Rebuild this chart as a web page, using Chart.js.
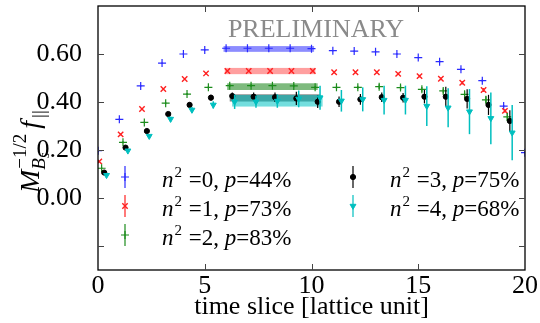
<!DOCTYPE html>
<html>
<head>
<meta charset="utf-8">
<script src="https://cdn.jsdelivr.net/npm/chart.js@4/dist/chart.umd.min.js"></script>
<style>
  html, body { margin: 0; padding: 0; background: #fff; }
  #wrap { width: 540px; height: 323px; }
</style>
</head>
<body>
<div id="wrap"><canvas id="c" width="540" height="323"></canvas></div>
<script>
// ---- data: correlator ratio vs. time slice for five momenta ----
const timeSlices = [0, 1, 2, 3, 4, 5, 6, 7, 8, 9, 10, 11, 12, 13, 14, 15, 16, 17, 18, 19, 20];

const momentumSq = [0, 1, 2, 3, 4];
const pValues = [44, 73, 83, 75, 68];

const valsN0 = [0.197, 0.328, 0.467, 0.562, 0.600, 0.617, 0.624, 0.624, 0.624, 0.624, 0.622, 0.614, 0.612, 0.609, 0.600, 0.585, 0.568, 0.536, 0.489, 0.383, 0.189];
const errsN0 = [0.003, 0.003, 0.003, 0.003, 0.003, 0.003, 0.003, 0.003, 0.003, 0.003, 0.003, 0.003, 0.003, 0.003, 0.003, 0.003, 0.004, 0.004, 0.005, 0.005, 0.003];

const valsN1 = [0.152, 0.265, 0.371, 0.454, 0.496, 0.519, 0.529, 0.529, 0.529, 0.529, 0.529, 0.524, 0.524, 0.524, 0.517, 0.508, 0.497, 0.480, 0.450, 0.363, null];
const errsN1 = [0.004, 0.004, 0.004, 0.004, 0.004, 0.004, 0.004, 0.004, 0.004, 0.004, 0.004, 0.004, 0.004, 0.004, 0.005, 0.005, 0.006, 0.007, 0.008, 0.008, null];

const valsN2 = [0.124, 0.232, 0.315, 0.395, 0.433, 0.461, 0.468, 0.468, 0.468, 0.467, 0.461, 0.461, 0.461, 0.464, 0.460, 0.453, 0.446, 0.432, 0.409, 0.338, null];
const errsN2 = [0.004, 0.004, 0.004, 0.004, 0.004, 0.005, 0.006, 0.006, 0.006, 0.006, 0.006, 0.007, 0.007, 0.010, 0.010, 0.010, 0.010, 0.012, 0.015, 0.016, null];

const valsN3 = [0.106, 0.210, 0.279, 0.350, 0.388, 0.418, 0.425, 0.422, 0.420, 0.415, 0.401, 0.401, 0.411, 0.420, 0.418, 0.422, 0.422, 0.413, 0.388, 0.321, null];
const errsN3 = [0.005, 0.006, 0.007, 0.008, 0.010, 0.012, 0.015, 0.018, 0.020, 0.028, 0.026, 0.022, 0.022, 0.020, 0.020, 0.028, 0.042, 0.040, 0.042, 0.045, null];

const valsN4 = [0.095, 0.197, 0.258, 0.329, 0.367, 0.388, 0.401, 0.401, 0.404, 0.413, 0.418, 0.405, 0.411, 0.408, 0.408, 0.383, 0.376, 0.360, 0.332, 0.272, null];
const errsN4 = [0.005, 0.006, 0.008, 0.010, 0.012, 0.015, 0.030, 0.025, 0.028, 0.035, 0.050, 0.045, 0.050, 0.060, 0.060, 0.083, 0.081, 0.094, 0.108, 0.115, null];

// plateau fits over the time-slice window
const fitRange = [6, 10];
const fitVals = [0.621, 0.529, 0.464, 0.417, 0.405];
const fitErrs = [0.012, 0.013, 0.014, 0.015, 0.024];

const xTickValues = [0, 5, 10, 15, 20];
const yTickValues = [-0.2, 0, 0.2, 0.4, 0.6, 0.8];
const yLabelled = [0, 0.2, 0.4, 0.6];

// ---- styling ----
const SERIF = '"Liberation Serif", "Times New Roman", serif';
const seriesVals = [valsN0, valsN1, valsN2, valsN3, valsN4];
const seriesErrs = [errsN0, errsN1, errsN2, errsN3, errsN4];
const styles = [
  { color: '#2a2aff', pointStyle: 'cross',    radius: 4,   rotation: 0,   bw: 1.2, fill: false, shift: 0.00, band: 'rgba(70,70,255,0.62)' },
  { color: '#ff2020', pointStyle: 'crossRot', radius: 3.8, rotation: 0,   bw: 1.4, fill: false, shift: 0.06, band: 'rgba(255,80,80,0.55)' },
  { color: '#1c8c1c', pointStyle: 'cross',    radius: 4,   rotation: 0,   bw: 1.2, fill: false, shift: 0.17, band: 'rgba(40,140,40,0.6)' },
  { color: '#000000', pointStyle: 'circle',   radius: 2.6, rotation: 0,   bw: 1,   fill: true,  shift: 0.29, band: 'rgba(25,35,35,0.55)' },
  { color: '#00bfbf', pointStyle: 'triangle', radius: 3.4, rotation: 180, bw: 1,   fill: true,  shift: 0.40, band: 'rgba(0,195,195,0.55)' }
];

const datasets = styles.map((s, i) => ({
  label: 'n2=' + momentumSq[i],
  data: timeSlices
    .map((t, j) => ({ x: t + s.shift, y: seriesVals[i][j], e: seriesErrs[i][j] }))
    .filter(d => d.y !== null),
  showLine: false,
  pointStyle: s.pointStyle,
  pointRadius: s.radius,
  pointRotation: s.rotation,
  pointBorderWidth: s.bw,
  pointBorderColor: s.color,
  pointBackgroundColor: s.fill ? s.color : 'rgba(0,0,0,0)',
  order: 4 - i,
  clip: 0
}));

// shaded plateau bands
const bandPlugin = {
  id: 'bands',
  beforeDatasetsDraw(chart) {
    const { ctx, chartArea: a, scales: { x, y } } = chart;
    ctx.save();
    ctx.beginPath(); ctx.rect(a.left, a.top, a.width, a.height); ctx.clip();
    styles.forEach((s, i) => {
      const x0 = x.getPixelForValue(fitRange[0] + s.shift - 0.12);
      const x1 = x.getPixelForValue(fitRange[1] + s.shift + 0.12);
      const y0 = y.getPixelForValue(fitVals[i] + fitErrs[i]);
      const y1 = y.getPixelForValue(fitVals[i] - fitErrs[i]);
      ctx.fillStyle = s.band;
      ctx.fillRect(x0, y0, x1 - x0, y1 - y0);
    });
    ctx.restore();
  }
};

// vertical error bars
const errorBarPlugin = {
  id: 'errorBars',
  afterDatasetDraw(chart, args) {
    const { ctx, chartArea: a, scales: { y } } = chart;
    const i = args.index;
    const s = styles[i];
    const ds = chart.data.datasets[i];
    ctx.save();
    ctx.beginPath(); ctx.rect(a.left, a.top, a.width, a.height); ctx.clip();
    ctx.strokeStyle = s.color;
    ctx.lineWidth = i === 4 ? 1.5 : 1.2;
    args.meta.data.forEach((pt, j) => {
      const d = ds.data[j];
      const yt = y.getPixelForValue(d.y + d.e);
      const yb = y.getPixelForValue(d.y - d.e);
      ctx.beginPath(); ctx.moveTo(pt.x, yt); ctx.lineTo(pt.x, yb); ctx.stroke();
    });
    ctx.restore();
  }
};

// box frame with inward ticks on all four sides
const framePlugin = {
  id: 'frame',
  afterDatasetsDraw(chart) {
    const { ctx, chartArea: a, scales: { x, y } } = chart;
    const L = 6;
    ctx.save();
    ctx.strokeStyle = '#000';
    ctx.lineWidth = 1.3;
    ctx.strokeRect(a.left, a.top, a.width, a.height);
    ctx.lineWidth = 1;
    ctx.strokeStyle = '#444';
    ctx.beginPath();
    xTickValues.forEach(v => {
      const px = Math.round(x.getPixelForValue(v)) + 0.5;
      if (v === x.min || v === x.max) return;
      ctx.moveTo(px, a.bottom); ctx.lineTo(px, a.bottom - L);
      ctx.moveTo(px, a.top); ctx.lineTo(px, a.top + L);
    });
    yTickValues.forEach(v => {
      const py = Math.round(y.getPixelForValue(v)) + 0.5;
      if (py <= a.top + 1 || py >= a.bottom - 1) return;
      ctx.moveTo(a.left, py); ctx.lineTo(a.left + L, py);
      ctx.moveTo(a.right, py); ctx.lineTo(a.right - L, py);
    });
    ctx.stroke();
    ctx.restore();
  }
};

function drawRuns(ctx, x, y, runs) {
  let p = x;
  runs.forEach(r => {
    ctx.font = r.font;
    ctx.fillText(r.t, p + (r.dx || 0), y + (r.dy || 0));
    p += ctx.measureText(r.t).width + (r.dx || 0);
  });
  return p;
}

// legend, watermark and y-axis title
const annotPlugin = {
  id: 'annot',
  afterDraw(chart) {
    const { ctx } = chart;
    ctx.save();
    ctx.textBaseline = 'alphabetic';
    ctx.textAlign = 'left';

    // watermark
    ctx.fillStyle = '#8a8a8a';
    ctx.font = '26px ' + SERIF;
    ctx.textAlign = 'center';
    ctx.fillText('PRELIMINARY', 316, 37);
    ctx.textAlign = 'left';

    // legend entries
    const slots = [
      { mx: 125, tx: 162, base: 187 },
      { mx: 125, tx: 162, base: 216 },
      { mx: 125, tx: 162, base: 245 },
      { mx: 353, tx: 390, base: 187 },
      { mx: 353, tx: 390, base: 216 }
    ];
    styles.forEach((s, i) => {
      const sl = slots[i];
      const my = sl.base - 10;
      ctx.strokeStyle = s.color;
      ctx.fillStyle = s.color;
      ctx.lineWidth = 1.2;
      ctx.beginPath(); ctx.moveTo(sl.mx, my - 11); ctx.lineTo(sl.mx, my + 11); ctx.stroke();
      ctx.lineWidth = s.bw;
      Chart.helpers.drawPoint(ctx, { pointStyle: s.pointStyle, radius: s.radius, rotation: s.rotation, borderWidth: s.bw }, sl.mx, my);
      ctx.fillStyle = '#000';
      drawRuns(ctx, sl.tx, sl.base, [
        { t: 'n', font: 'italic 23px ' + SERIF },
        { t: '2', font: '15px ' + SERIF, dy: -10, dx: 1 },
        { t: ' =' + momentumSq[i] + ', ', font: '23px ' + SERIF, dx: 1 },
        { t: 'p', font: 'italic 23px ' + SERIF },
        { t: '=' + pValues[i] + '%', font: '23px ' + SERIF }
      ]);
    });

    // rotated y-axis title: M_{B_s}^{-1/2} f_||
    ctx.translate(39, 193);
    ctx.rotate(-Math.PI / 2);
    ctx.fillStyle = '#000';
    let p = 0;
    ctx.font = 'italic 28px ' + SERIF;
    ctx.fillText('M', p, 0);
    p += ctx.measureText('M').width;
    ctx.font = 'italic 19px ' + SERIF;
    ctx.fillText('B', p, 6);
    const wB = ctx.measureText('B').width;
    ctx.font = 'italic 14px ' + SERIF;
    ctx.fillText('s', p + wB, 10);
    const wSub = wB + ctx.measureText('s').width;
    ctx.font = '19px ' + SERIF;
    ctx.fillText('\u22121/2', p + 1, -13);
    const wSup = ctx.measureText('\u22121/2').width + 1;
    p += Math.max(wSub, wSup) + 5;
    ctx.font = 'italic 28px ' + SERIF;
    ctx.fillText('f', p, 0);
    p += ctx.measureText('f').width + 3;
    ctx.font = '19px ' + SERIF;
    ctx.fillText('||', p, 6);
    ctx.restore();
  }
};

new Chart(document.getElementById('c'), {
  type: 'scatter',
  data: { datasets },
  plugins: [bandPlugin, errorBarPlugin, framePlugin, annotPlugin],
  options: {
    responsive: false,
    animation: false,
    devicePixelRatio: 1,
    layout: { padding: { top: 6, right: 15, left: 0, bottom: 0 } },
    plugins: { legend: { display: false }, tooltip: { enabled: false } },
    scales: {
      x: {
        type: 'linear',
        min: 0, max: 20,
        afterBuildTicks: s => { s.ticks = xTickValues.map(v => ({ value: v })); },
        afterFit: s => { s.height = 53; s.paddingLeft = 0; s.paddingRight = 0; },
        grid: { display: false },
        border: { display: false },
        ticks: { color: '#000', padding: -7, font: { family: SERIF, size: 26 }, maxRotation: 0, autoSkip: false },
        title: { display: true, text: 'time slice [lattice unit]', color: '#000', font: { family: SERIF, size: 26 }, padding: { top: 0, bottom: 0 } }
      },
      y: {
        type: 'linear',
        min: -0.3, max: 0.8,
        afterBuildTicks: s => { s.ticks = yTickValues.map(v => ({ value: v })); },
        afterFit: s => { s.width = 98; s.paddingTop = 0; s.paddingBottom = 0; },
        grid: { display: false },
        border: { display: false },
        ticks: {
          color: '#000', padding: 8, font: { family: SERIF, size: 26 }, autoSkip: false,
          callback: v => yLabelled.some(u => Math.abs(u - v) < 1e-9) ? v.toFixed(2) : ''
        }
      }
    }
  }
});
</script>
</body>
</html>
